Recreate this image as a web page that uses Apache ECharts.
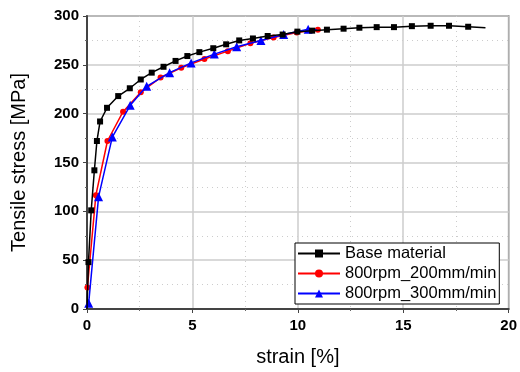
<!DOCTYPE html>
<html><head><meta charset="utf-8">
<script src="https://cdn.jsdelivr.net/npm/echarts@6/dist/echarts.min.js"></script>
<style>html,body{margin:0;padding:0;background:#fff}#c{width:520px;height:372px}</style>
</head><body><div id="c"></div>
<script>
const seriesNames = ["Base material", "800rpm_200mm/min", "800rpm_300mm/min"];
const baseStrain = [0, 0.07, 0.2, 0.35, 0.47, 0.62, 0.95, 1.48, 2.03, 2.55, 3.07, 3.63, 4.2, 4.76, 5.33, 5.99, 6.6, 7.22, 7.87, 8.57, 9.28, 9.98, 10.68, 11.38, 12.17, 12.92, 13.74, 14.56, 15.41, 16.3, 17.17, 18.08, 18.9];
const baseStress = [0, 48, 101, 142, 172, 192, 206, 218, 226, 235, 242, 248, 254, 259, 263, 267, 271, 275, 277, 279.5, 281, 284, 285, 286, 287, 288, 288.6, 288.6, 289.6, 290, 290, 289, 288];
const r200Strain = [0.02, 0.42, 0.97, 1.71, 2.55, 3.49, 4.47, 5.57, 6.68, 7.75, 8.85, 9.95, 10.95];
const r200Stress = [22, 116.5, 172, 202, 222, 237, 247, 256, 264, 272, 278, 283, 286];
const r300Strain = [0.08, 0.55, 1.2, 2.05, 2.83, 3.92, 4.94, 6.04, 7.1, 8.25, 9.33, 10.49, 10.9];
const r300Stress = [6, 115, 176, 208.5, 228, 242, 252, 261, 268.5, 275, 281, 286.5, 286];
const xTicks = [0, 5, 10, 15, 20];
const yTicks = [0, 50, 100, 150, 200, 250, 300];

function pairs(xs, ys, noMarkIdx) {
  return xs.map((x, i) => noMarkIdx.includes(i) ? {value: [x, ys[i]], symbol: 'none'} : [x, ys[i]]);
}
const font = 'Liberation Sans, Arial, sans-serif';
const chart = echarts.init(document.getElementById('c'));
chart.setOption({
  animation: false,
  grid: {left: 87, right: 9, top: 16, bottom: 59, show: true, borderColor: '#555', borderWidth: 1.5, backgroundColor: '#fff'},
  legend: {
    orient: 'vertical', left: 295, top: 243, itemWidth: 42, itemHeight: 10, itemGap: 3,
    padding: [2, 3, 2, 2], borderColor: '#000', borderWidth: 1, backgroundColor: '#fff',
    textStyle: {fontFamily: font, fontSize: 16.5, color: '#000'},
    data: seriesNames
  },
  xAxis: {
    type: 'value', min: xTicks[0], max: xTicks[xTicks.length - 1], interval: 5,
    name: 'strain [%]', nameLocation: 'middle', nameGap: 38,
    nameTextStyle: {fontFamily: font, fontSize: 20, color: '#000'},
    axisLine: {show: true, lineStyle: {color: '#444', width: 2}},
    axisTick: {show: true, inside: false, length: 4, lineStyle: {color: '#444'}},
    minorTick: {show: true, splitNumber: 2, length: 2, lineStyle: {color: '#666'}},
    axisLabel: {fontFamily: font, fontSize: 15, fontWeight: 'bold', color: '#000', margin: 9},
    splitLine: {show: true, lineStyle: {color: '#ccc', width: 1.5}},
    minorSplitLine: {show: true, lineStyle: {color: '#ccc', type: [1, 4], width: 1}}
  },
  yAxis: {
    type: 'value', min: yTicks[0], max: yTicks[yTicks.length - 1], interval: 50,
    name: 'Tensile stress [MPa]', nameLocation: 'middle', nameGap: 58,
    nameTextStyle: {fontFamily: font, fontSize: 20, color: '#000'},
    axisLine: {show: true, lineStyle: {color: '#444', width: 2}},
    axisTick: {show: true, inside: false, length: 4, lineStyle: {color: '#444'}},
    minorTick: {show: true, splitNumber: 2, length: 2, lineStyle: {color: '#666'}},
    axisLabel: {fontFamily: font, fontSize: 15, fontWeight: 'bold', color: '#000', margin: 8},
    splitLine: {show: true, lineStyle: {color: '#ccc', width: 1.5}},
    minorSplitLine: {show: true, lineStyle: {color: '#ccc', type: [1, 4], width: 1}}
  },
  series: [
    {name: seriesNames[0], type: 'line', z: 5, data: pairs(baseStrain, baseStress, [0, baseStrain.length - 1]),
     symbol: 'rect', symbolSize: 6, color: '#000', lineStyle: {width: 1.5, color: '#000'}, itemStyle: {color: '#000'}},
    {name: seriesNames[1], type: 'line', z: 3, data: pairs(r200Strain, r200Stress, []),
     symbol: 'circle', symbolSize: 6, color: '#ff0000', lineStyle: {width: 1.5, color: '#ff0000'}, itemStyle: {color: '#ff0000'}},
    {name: seriesNames[2], type: 'line', z: 4, data: pairs(r300Strain, r300Stress, [r300Strain.length - 1]),
     symbol: 'triangle', symbolSize: 9, color: '#0000ff', lineStyle: {width: 1.5, color: '#0000ff'}, itemStyle: {color: '#0000ff'}}
  ]
});
</script></body></html>
